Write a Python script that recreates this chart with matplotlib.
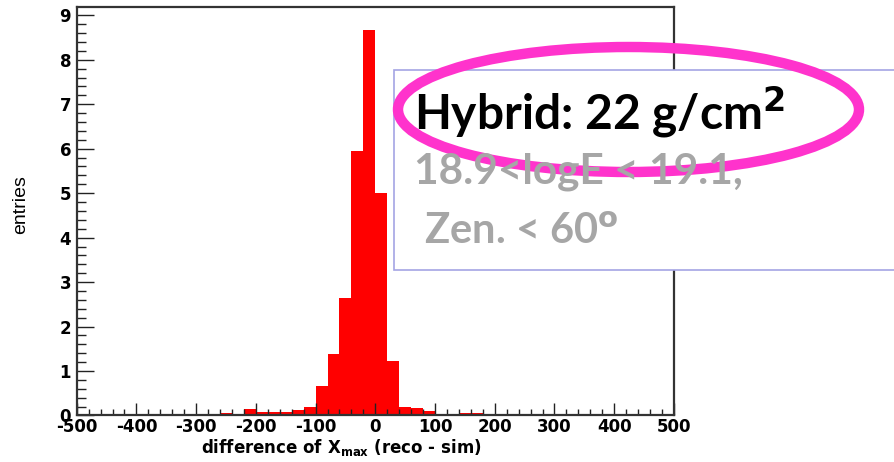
import numpy as np
import matplotlib
matplotlib.use('Agg')
import matplotlib.pyplot as plt
from matplotlib.patches import Rectangle, Ellipse
from matplotlib.ticker import MultipleLocator

# X_max residuals, 20 g/cm2 bins from -500 to 500
bin_edges = np.arange( -500, 520, 20 )
bin_lows = [ -260, -220, -200, -180, -160, -140, -120, -100, -80, -60, -40, -20,
             0, 20, 40, 60, 80, 140, 160 ]
bin_entries = [ 0.05, 0.14, 0.08, 0.08, 0.08, 0.13, 0.19, 0.66, 1.39, 2.64, 5.94, 8.66,
                5.01, 1.23, 0.20, 0.17, 0.11, 0.05, 0.05 ]

x_ticks = list( range( -500, 600, 100 ) )
y_ticks = list( range( 0, 10 ) )

heights = np.zeros( len( bin_edges ) - 1 )
for low, val in zip( bin_lows, bin_entries ):
    heights[ np.searchsorted( bin_edges, low ) ] = val

fig = plt.figure( figsize=( 8.95, 4.62 ), dpi=100 )
ax = fig.add_axes( [ 0.0857, 0.1007, 0.6673, 0.8835 ] )

ax.stairs( heights, bin_edges, fill=True, color='#ff0000', linewidth=0 )

ax.set_xlim( -500, 500 )
ax.set_ylim( 0, 9.18 )
ax.set_xticks( x_ticks )
ax.set_yticks( y_ticks )
ax.xaxis.set_minor_locator( MultipleLocator( 20 ) )
ax.yaxis.set_minor_locator( MultipleLocator( 0.2 ) )

for side in ax.spines.values():
    side.set_linewidth( 1.6 )
    side.set_color( '#333333' )

ax.tick_params( axis='both', which='both', direction='in', color='#222222', width=1 )
ax.tick_params( axis='x', which='major', length=9, pad=2 )
ax.tick_params( axis='x', which='minor', length=4.5 )
ax.tick_params( axis='y', which='major', length=12, pad=4 )
ax.tick_params( axis='y', which='minor', length=6.5 )

tick_font = dict( family='DejaVu Sans', weight='bold', size=12 )
ax.set_xticklabels( [ str( t ) for t in x_ticks ], **tick_font )
ax.set_yticklabels( [ str( t ) for t in y_ticks ], **tick_font )

ax.set_xlabel( r'difference of X$_{\mathbf{max}}$ (reco - sim)', family='DejaVu Sans',
               weight='bold', size=12 )
ax.xaxis.set_label_coords( 0.4425, -0.052 )
ax.set_ylabel( 'entries', family='Liberation Sans', size=14 )
ax.yaxis.set_label_coords( -0.08, 0.516 )

# annotation layer in pixel coordinates
ov = fig.add_axes( [ 0, 0, 1, 1 ], zorder=5 )
ov.set_xlim( 0, 895 )
ov.set_ylim( 462, 0 )
ov.axis( 'off' )
ov.patch.set_alpha( 0 )

ov.add_patch( Rectangle( ( 394, 70 ), 520, 200, facecolor='white', edgecolor='#a4a4e4',
                         linewidth=1.2 ) )
ov.text( 414, 112, 'Hybrid: 22 g/cm$^{\\mathbf{2}}$', family='Lato', weight='bold', size=34.5,
         color='black', va='center', ha='left' )
ov.text( 414, 172, '18.9<logE < 19.1,', family='Lato', weight='bold', size=30.5,
         color='#a6a6a6', va='center', ha='left' )
ov.text( 414, 232, ' Zen. < 60$^{\\mathbf{o}}$', family='Lato', weight='bold', size=30,
         color='#a6a6a6', va='center', ha='left' )
ov.add_patch( Ellipse( ( 628.5, 109.5 ), 461, 125, fill=False, edgecolor='#ff33cc',
                       linewidth=7.5 ) )

fig.savefig( 'out.png', dpi=100 )
